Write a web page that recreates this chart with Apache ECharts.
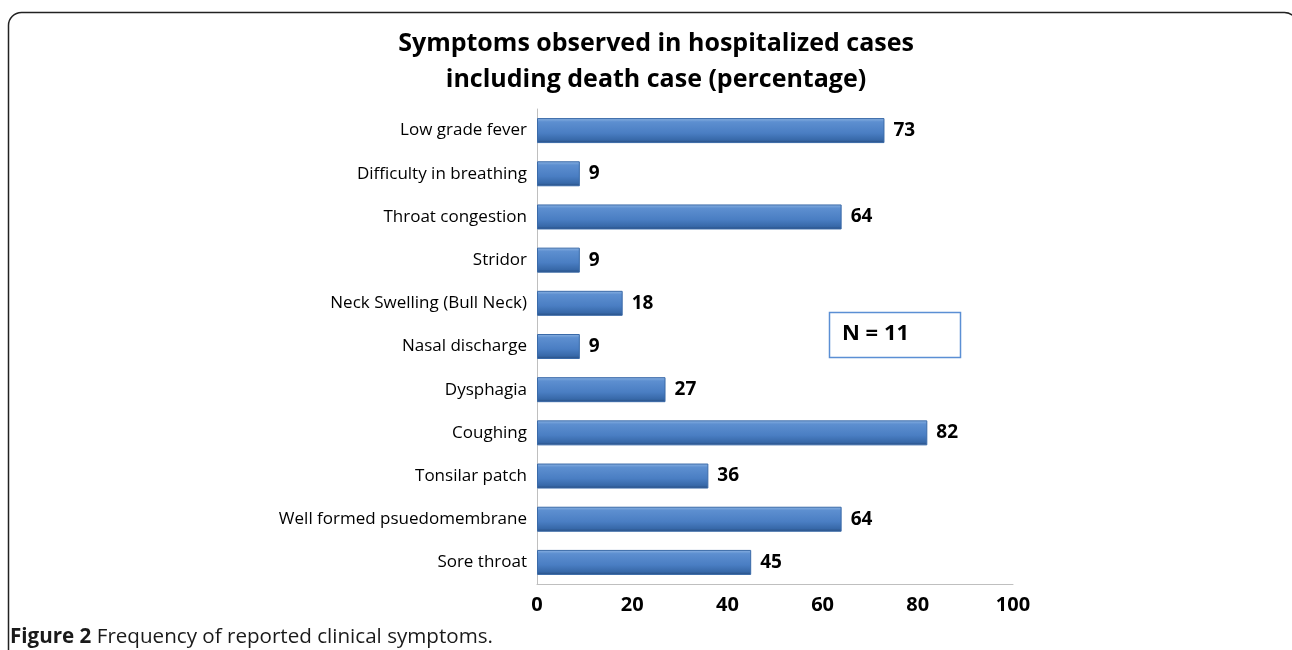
<!DOCTYPE html>
<html>
<head>
<meta charset="utf-8">
<script src="https://cdn.jsdelivr.net/npm/echarts@6/dist/echarts.min.js"></script>
<style>
  html, body { margin: 0; padding: 0; background: #fff; }
  #main { width: 1292px; height: 650px; }
</style>
</head>
<body>
<div id="main"></div>
<script>
// data, top to bottom as in the figure
const symptoms = ['Low grade fever', 'Difficulty in breathing', 'Throat congestion', 'Stridor',
  'Neck Swelling (Bull Neck)', 'Nasal discharge', 'Dysphagia', 'Coughing', 'Tonsilar patch',
  'Well formed psuedomembrane', 'Sore throat'];
const percentages = [73, 9, 64, 9, 18, 9, 27, 82, 36, 64, 45];
const xTicks = [0, 20, 40, 60, 80, 100];

let myChart = echarts.init(document.getElementById('main'));

let option = {
  animation: false,
  title: {
    text: 'Symptoms observed in hospitalized cases\nincluding death case (percentage)',
    left: 651, top: 21, textAlign: 'center',
    textStyle: { fontFamily: 'Open Sans', fontWeight: 'bold', fontSize: 25, lineHeight: 36, color: '#000' }
  },
  grid: { left: 537, top: 109, width: 476, height: 475 },
  xAxis: {
    type: 'value', min: xTicks[0], max: xTicks[xTicks.length - 1], interval: 20,
    splitLine: { show: false },
    axisLine: { show: true, lineStyle: { color: '#bfbfbf' } },
    axisTick: { show: false },
    axisLabel: { margin: 11, fontFamily: 'Open Sans', fontWeight: 'bold', fontSize: 20, color: '#000' }
  },
  yAxis: {
    type: 'category', inverse: true, data: symptoms,
    axisLine: { show: true, lineStyle: { color: '#bfbfbf' } },
    axisTick: { show: false },
    axisLabel: { margin: 10, fontFamily: 'Open Sans', fontSize: 17, color: '#000' }
  },
  series: [{
    type: 'bar',
    data: percentages,
    barWidth: 25,
    itemStyle: {
      color: new echarts.graphic.LinearGradient(0, 0, 0, 1, [
        { offset: 0, color: '#8db4e3' },
        { offset: 0.15, color: '#5d8fd0' },
        { offset: 0.6, color: '#4a7ec3' },
        { offset: 0.88, color: '#3768a8' },
        { offset: 1, color: '#25497a' }
      ]),
      borderColor: '#3a6aa8', borderWidth: 1
    },
    label: {
      show: true, position: 'right', distance: 9,
      fontFamily: 'Open Sans', fontWeight: 'bold', fontSize: 19, color: '#000'
    }
  }],
  graphic: [
    {
      type: 'rect', silent: true, z: -1,
      shape: { x: 8.5, y: 12.5, width: 1289, height: 700, r: 13 },
      style: { fill: 'none', stroke: '#222', lineWidth: 1.5 }
    },
    {
      type: 'rect', silent: true,
      shape: { x: 829.5, y: 312.5, width: 131, height: 45 },
      style: { fill: '#fff', stroke: '#5b8fd4', lineWidth: 1.5 }
    },
    {
      type: 'text', left: 842, top: 323,
      style: { text: 'N = 11', fontFamily: 'Open Sans', fontWeight: 'bold', fontSize: 22, fill: '#000' }
    },
    {
      type: 'text', left: 10, top: 627,
      style: {
        text: '{b|Figure 2} Frequency of reported clinical symptoms.',
        fontFamily: 'Open Sans', fontSize: 20.6, fill: '#1a1a1a',
        rich: { b: { fontFamily: 'Open Sans', fontWeight: 'bold', fontSize: 20.6, fill: '#1a1a1a' } }
      }
    }
  ]
};
myChart.setOption(option);
</script>
</body>
</html>
